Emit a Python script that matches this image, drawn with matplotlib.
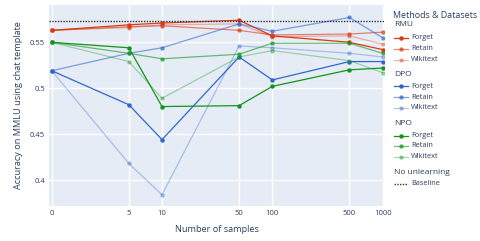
import matplotlib
matplotlib.use("Agg")
import matplotlib.pyplot as plt
from matplotlib.lines import Line2D
import numpy as np

plt.rcParams['font.family'] = ['Open Sans', 'DejaVu Sans']

samples = [0, 5, 10, 50, 100, 500, 1000]
tick_labels = ['0', '5', '10', '50', '100', '500', '1000']

rmu_forget = [0.563, 0.569, 0.571, 0.574, 0.557, 0.550, 0.542]
rmu_retain = [0.563, 0.567, 0.568, 0.563, 0.558, 0.559, 0.561]
rmu_wikitext = [0.563, 0.566, 0.569, 0.570, 0.556, 0.557, 0.548]

dpo_forget = [0.519, 0.482, 0.444, 0.534, 0.509, 0.529, 0.529]
dpo_retain = [0.519, 0.538, 0.544, 0.570, 0.562, 0.577, 0.555]
dpo_wikitext = [0.519, 0.418, 0.384, 0.546, 0.544, 0.538, 0.534]

npo_forget = [0.550, 0.544, 0.480, 0.481, 0.502, 0.520, 0.522]
npo_retain = [0.550, 0.538, 0.532, 0.537, 0.549, 0.549, 0.538]
npo_wikitext = [0.550, 0.529, 0.489, 0.534, 0.541, 0.530, 0.517]

baseline = 0.573

red, blue, green = '#DC3912', '#3366CC', '#109618'
text_col = '#2a3f5f'

# 0 is placed at 1 on the log axis
xpos = [1 if s == 0 else s for s in samples]

fig = plt.figure(figsize=(4.81, 2.41), dpi=100)
ax = fig.add_axes([49.3 / 481, 1 - 206 / 241, 335 / 481, 201 / 241])
ax.set_facecolor('#E5ECF6')

groups = [
    ('RMU', red, [rmu_forget, rmu_retain, rmu_wikitext]),
    ('DPO', blue, [dpo_forget, dpo_retain, dpo_wikitext]),
    ('NPO', green, [npo_forget, npo_retain, npo_wikitext]),
]
alphas = [1.0, 0.6, 0.35]
names = ['Forget', 'Retain', 'Wikitext']

for gname, col, series in groups:
    for vals, a in zip(series, alphas):
        ax.plot(xpos, vals, color=col, alpha=a, lw=0.9, marker='o', ms=2.2,
                zorder=3)

ax.axhline(baseline, color='#333333', lw=1, ls=(0, (1, 1)), zorder=4)

ax.set_xscale('log')
ax.set_xlim(0.951, 1035)
ax.set_ylim(0.3717, 0.5906)
ax.set_xticks(xpos)
ax.set_xticklabels(tick_labels)
ax.minorticks_off()
ax.set_yticks([0.4, 0.45, 0.5, 0.55])
ax.set_yticklabels(['0.4', '0.45', '0.5', '0.55'])
ax.grid(True, color='white', lw=1)
ax.set_axisbelow(True)
for s in ax.spines.values():
    s.set_visible(False)
ax.tick_params(length=0, labelsize=5.5, colors=text_col, pad=3)
ax.set_xlabel('Number of samples', fontsize=6.6, color=text_col, labelpad=6)
ax.set_ylabel('Accuracy on MMLU using chat template', fontsize=6.6,
              color=text_col, labelpad=5)

# grouped legend drawn by hand
def fx(px):
    return px / 481

def fy(py):
    return 1 - py / 241

fig.text(fx(393), fy(15), 'Methods & Datasets', fontsize=6.4, color=text_col,
         va='center', ha='left')
group_y = [25, 75, 124]
item_y = [[37.5, 48.5, 59.5], [86.3, 97.3, 107.7], [135.7, 145.7, 156.7]]
for (gname, col, _), gy, iys in zip(groups, group_y, item_y):
    fig.text(fx(394), fy(gy), gname, fontsize=6, color=text_col,
             va='center', ha='left')
    for nm, a, iy in zip(names, alphas, iys):
        fig.add_artist(Line2D([fx(394), fx(408.3)], [fy(iy), fy(iy)],
                              color=col, alpha=a, lw=0.9,
                              transform=fig.transFigure))
        fig.add_artist(Line2D([fx(401)], [fy(iy)], color=col, alpha=a,
                              marker='o', ms=2.2, transform=fig.transFigure))
        fig.text(fx(411), fy(iy), nm, fontsize=5.3, color=text_col,
                 va='center', ha='left')
fig.text(fx(394), fy(172.3), 'No unlearning', fontsize=6, color=text_col,
         va='center', ha='left')
fig.add_artist(Line2D([fx(394), fx(408.3)], [fy(183.7), fy(183.7)],
                      color='#333333', lw=1, ls=(0, (1, 1)),
                      transform=fig.transFigure))
fig.text(fx(411), fy(183.7), 'Baseline', fontsize=5.3, color=text_col,
         va='center', ha='left')

fig.savefig('out.png', dpi=100, facecolor='white')
